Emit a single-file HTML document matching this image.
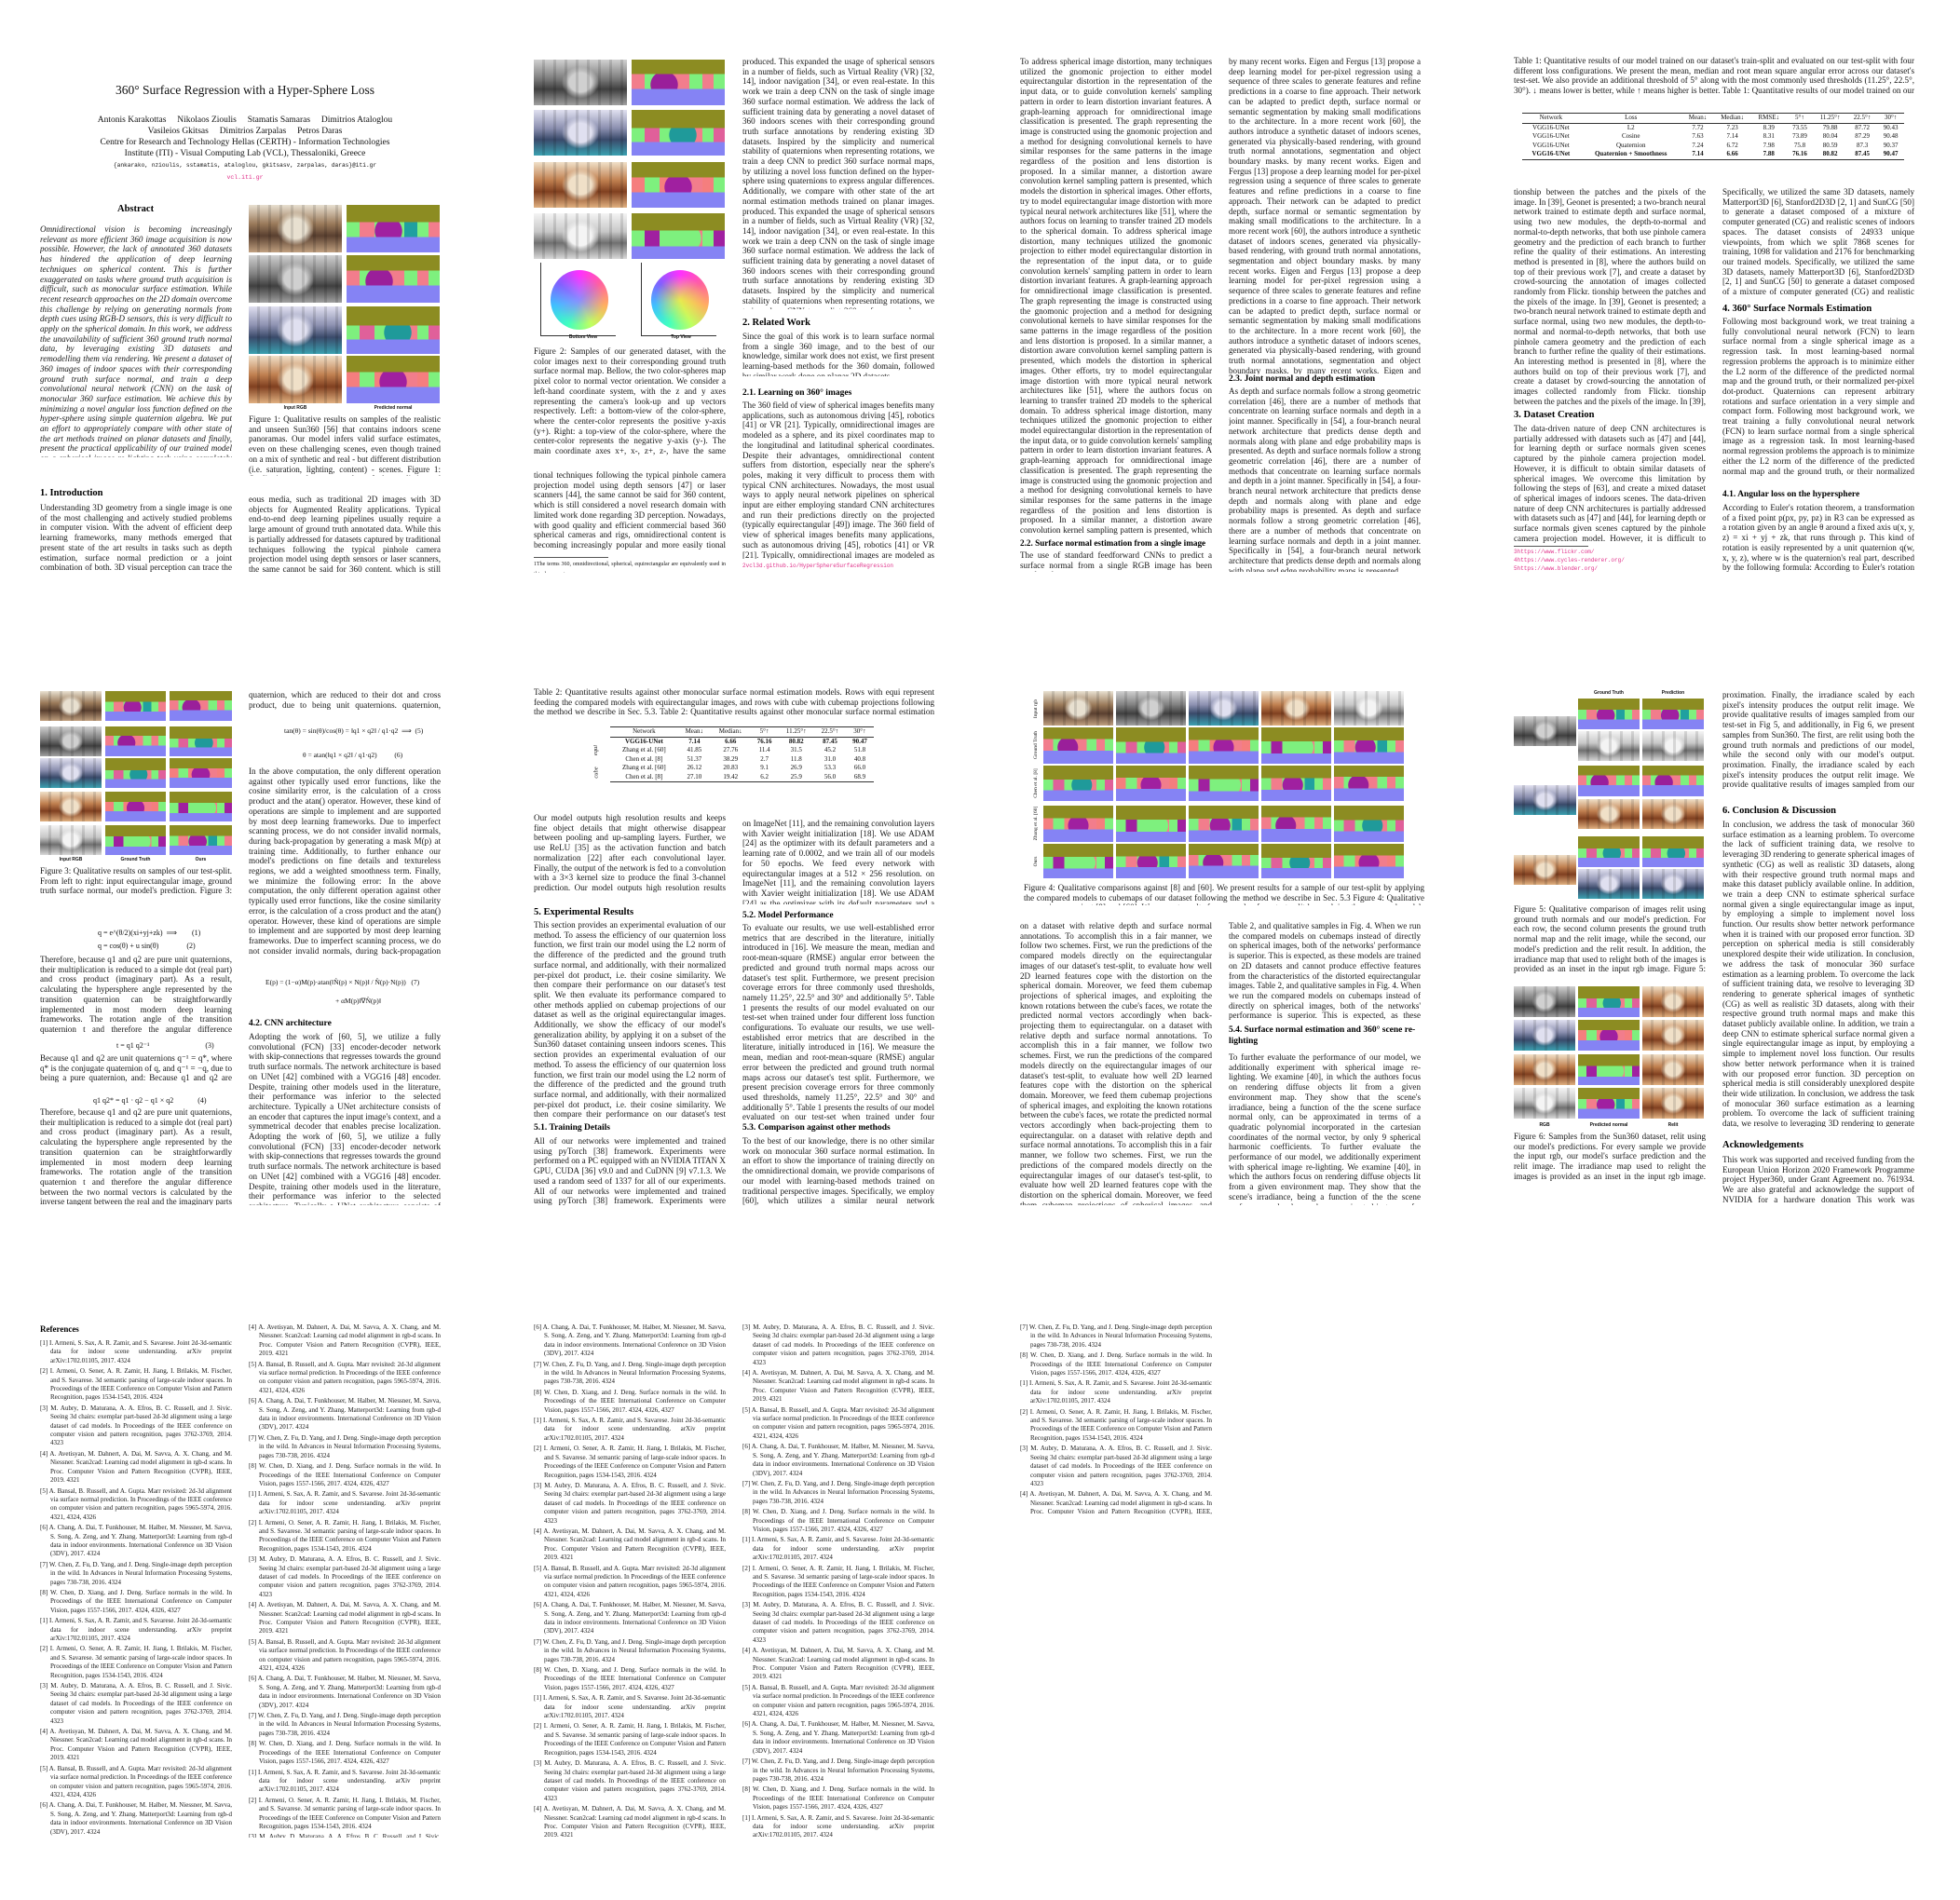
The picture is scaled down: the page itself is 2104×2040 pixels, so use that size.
<!DOCTYPE html>
<html><head><meta charset="utf-8">
<style>
html,body{margin:0;padding:0;background:#fff;}
body{width:2104px;height:2040px;position:relative;overflow:hidden;font-family:"Liberation Serif",serif;color:#111;}
.page{position:absolute;width:526px;height:680px;background:#fff;overflow:hidden;}
.abs{position:absolute;}
.col{position:absolute;overflow:hidden;font-size:9.1px;line-height:10.7px;text-align:justify;color:#161616;}
.refcol{position:absolute;overflow:hidden;font-size:7px;line-height:9.4px;color:#1a1a1a;}
.refcol div{padding-left:11px;text-indent:-11px;margin-bottom:2px;text-align:justify;}
.h{position:absolute;font-weight:bold;font-size:10px;white-space:nowrap;color:#000;}
.img{position:absolute;}
.lbl{position:absolute;font-family:"Liberation Sans",sans-serif;font-size:5px;font-weight:bold;text-align:center;}
table.t{border-collapse:collapse;font-size:7px;line-height:9.5px;position:absolute;}
table.t td{padding:0 3px;text-align:center;white-space:nowrap;}
table.t tr.top td{border-top:1px solid #333;border-bottom:1px solid #333;}
table.t tr.last td{border-bottom:1px solid #333;}
</style></head>
<body>
<div id="root"></div>
<script>
const TXT = [
"Understanding 3D geometry from a single image is one of the most challenging and actively studied problems in computer vision. With the advent of efficient deep learning frameworks, many methods emerged that present state of the art results in tasks such as depth estimation, surface normal prediction or a joint combination of both. 3D visual perception can trace the path for a number of applications, like autonomous driving, robot navigation, 3D reconstruction or even the fusion of two heterogeneous media, such as traditional 2D images with 3D objects for Augmented Reality applications. Typical end-to-end deep learning pipelines usually require a large amount of ground truth annotated data. While this is partially addressed for datasets captured by traditional techniques following the typical pinhole camera projection model using depth sensors or laser scanners, the same cannot be said for 360 content, which is still considered a novel research domain with limited work done regarding 3D perception. ",
"To address spherical image distortion, many techniques utilized the gnomonic projection to either model equirectangular distortion in the representation of the input data, or to guide convolution kernels' sampling pattern in order to learn distortion invariant features. A graph-learning approach for omnidirectional image classification is presented. The graph representing the image is constructed using the gnomonic projection and a method for designing convolutional kernels to have similar responses for the same patterns in the image regardless of the position and lens distortion is proposed. In a similar manner, a distortion aware convolution kernel sampling pattern is presented, which models the distortion in spherical images. ",
"This section provides an experimental evaluation of our method. To assess the efficiency of our quaternion loss function, we first train our model using the L2 norm of the difference of the predicted and the ground truth surface normal, and additionally, with their normalized per-pixel dot product, i.e. their cosine similarity. We then compare their performance on our dataset's test split. We then evaluate its performance compared to other methods applied on cubemap projections of our dataset as well as the original equirectangular images. Additionally, we show the efficacy of our model's generalization ability, by applying it on a subset of the Sun360 dataset containing unseen indoors scenes. ",
"In conclusion, we address the task of monocular 360 surface estimation as a learning problem. To overcome the lack of sufficient training data, we resolve to leveraging 3D rendering to generate spherical images of synthetic (CG) as well as realistic 3D datasets, along with their respective ground truth normal maps and make this dataset publicly available online. In addition, we train a deep CNN to estimate spherical surface normal given a single equirectangular image as input, by employing a simple to implement novel loss function. Our results show better network performance when it is trained with our proposed error function. ",
"Therefore, because q1 and q2 are pure unit quaternions, their multiplication is reduced to a simple dot (real part) and cross product (imaginary part). As a result, calculating the hypersphere angle represented by the transition quaternion can be straightforwardly implemented in most modern deep learning frameworks. The rotation angle of the transition quaternion t and therefore the angular difference between the two normal vectors is calculated by the inverse tangent between the real and the imaginary parts of the transition quaternion, which are reduced to their dot and cross product. "
];
const ABS = "Omnidirectional vision is becoming increasingly relevant as more efficient 360 image acquisition is now possible. However, the lack of annotated 360 datasets has hindered the application of deep learning techniques on spherical content. This is further exaggerated on tasks where ground truth acquisition is difficult, such as monocular surface estimation. While recent research approaches on the 2D domain overcome this challenge by relying on generating normals from depth cues using RGB-D sensors, this is very difficult to apply on the spherical domain. In this work, we address the unavailability of sufficient 360 ground truth normal data, by leveraging existing 3D datasets and remodelling them via rendering. We present a dataset of 360 images of indoor spaces with their corresponding ground truth surface normal, and train a deep convolutional neural network (CNN) on the task of monocular 360 surface estimation. We achieve this by minimizing a novel angular loss function defined on the hyper-sphere using simple quaternion algebra. We put an effort to appropriately compare with other state of the art methods trained on planar datasets and finally, present the practical applicability of our trained model on a spherical image re-lighting task using completely unseen data by qualitatively showing the promising generalization ability of our dataset and model.";
const REFS = [
"[1] I. Armeni, S. Sax, A. R. Zamir, and S. Savarese. Joint 2d-3d-semantic data for indoor scene understanding. arXiv preprint arXiv:1702.01105, 2017. 4324",
"[2] I. Armeni, O. Sener, A. R. Zamir, H. Jiang, I. Brilakis, M. Fischer, and S. Savarese. 3d semantic parsing of large-scale indoor spaces. In Proceedings of the IEEE Conference on Computer Vision and Pattern Recognition, pages 1534-1543, 2016. 4324",
"[3] M. Aubry, D. Maturana, A. A. Efros, B. C. Russell, and J. Sivic. Seeing 3d chairs: exemplar part-based 2d-3d alignment using a large dataset of cad models. In Proceedings of the IEEE conference on computer vision and pattern recognition, pages 3762-3769, 2014. 4323",
"[4] A. Avetisyan, M. Dahnert, A. Dai, M. Savva, A. X. Chang, and M. Niessner. Scan2cad: Learning cad model alignment in rgb-d scans. In Proc. Computer Vision and Pattern Recognition (CVPR), IEEE, 2019. 4321",
"[5] A. Bansal, B. Russell, and A. Gupta. Marr revisited: 2d-3d alignment via surface normal prediction. In Proceedings of the IEEE conference on computer vision and pattern recognition, pages 5965-5974, 2016. 4321, 4324, 4326",
"[6] A. Chang, A. Dai, T. Funkhouser, M. Halber, M. Niessner, M. Savva, S. Song, A. Zeng, and Y. Zhang. Matterport3d: Learning from rgb-d data in indoor environments. International Conference on 3D Vision (3DV), 2017. 4324",
"[7] W. Chen, Z. Fu, D. Yang, and J. Deng. Single-image depth perception in the wild. In Advances in Neural Information Processing Systems, pages 730-738, 2016. 4324",
"[8] W. Chen, D. Xiang, and J. Deng. Surface normals in the wild. In Proceedings of the IEEE International Conference on Computer Vision, pages 1557-1566, 2017. 4324, 4326, 4327"
];

const root = document.getElementById('root');
const pages = [];
for (let i = 0; i < 12; i++) {
  const p = document.createElement('div');
  p.className = 'page';
  p.style.left = (i % 4) * 526 + 'px';
  p.style.top = Math.floor(i / 4) * 680 + 'px';
  
  
  root.appendChild(p);
  pages.push(p);
}

function col(pg, x, y, w, h, text, extra, name) {
  const el = document.createElement('div');
  el.className = 'col';
  el.style.cssText += `left:${x}px;top:${y}px;width:${w}px;height:${h}px;`;
  
  
  pages[pg].appendChild(el);
  let s = text, n = 0;
  el.textContent = s;
  while (el.scrollHeight <= el.clientHeight + 2 && n < 20) { s += ' ' + text; el.textContent = s; n++; }
  return el;
}
function refcol(pg, x, y, w, h, start) {
  const el = document.createElement('div');
  el.className = 'refcol';
  el.style.cssText += `left:${x}px;top:${y}px;width:${w}px;height:${h}px;`;
  
  
  pages[pg].appendChild(el);
  let i = start, n = 0;
  while (el.scrollHeight <= el.clientHeight + 2 && n < 60) {
    const d = document.createElement('div');
    d.textContent = REFS[i % REFS.length];
    
    
    el.appendChild(d);
    i++; n++;
  }
}
function head(pg, x, y, text, size, name, w) {
  const el = document.createElement('div');
  el.className = 'h';
  el.style.left = x + 'px'; el.style.top = y + 'px';
  if (size) el.style.fontSize = size + 'px';
  if (w) { el.style.width = w + 'px'; el.style.whiteSpace = 'normal'; el.style.lineHeight = '12px'; }
  el.textContent = text;
  
  
  pages[pg].appendChild(el);
  return el;
}
function line(pg, x, y, text, css, name) {
  const el = document.createElement('div');
  el.className = 'abs';
  el.style.cssText += `left:${x}px;top:${y}px;white-space:nowrap;` + (css || '');
  el.textContent = text;
  
  
  pages[pg].appendChild(el);
  return el;
}
const NMV = [
 ['#8c8c22',0.36,'#7ef07e','#f27d8c','#a020a0','#20a0a0',0.45,0.68],
 ['#8c8c22',0.32,'#f27d8c','#7ef07e','#9a1f9a','#7ef07e',0.35,0.64],
 ['#8c8c22',0.40,'#7ef07e','#e0609a','#1f9a9a','#f27d8c',0.55,0.7],
 ['#8c8c22',0.34,'#f57e7e','#7ef07e','#a020a0','#f27d8c',0.5,0.66],
 ['#8c8c22',0.38,'#7ef07e','#a020a0','#7ef07e','#f27d8c',0.6,0.72]
];
function nmap(pg, x, y, w, h, v) {
  const c = NMV[v % NMV.length];
  const el = document.createElement('div');
  el.className = 'img';
  el.style.cssText += `left:${x}px;top:${y}px;width:${w}px;height:${h}px;`;
  el.style.background =
    `linear-gradient(${c[0]} 0 ${c[1]*100}%, transparent ${c[1]*100}%),` +
    `linear-gradient(transparent 0 ${c[7]*100}%, #8583f4 ${c[7]*100}%),` +
    `radial-gradient(ellipse 15% 30% at ${c[6]*100}% 55%, ${c[4]} 0 96%, transparent 100%),` +
    `linear-gradient(to right, ${c[2]} 0 14%, ${c[3]} 14% 30%, ${c[2]} 30% 62%, ${c[5]} 62% 76%, ${c[2]} 76% 88%, ${c[3]} 88%)`;
  
  
  pages[pg].appendChild(el);
}
const RGBV = [
 ['#e8e0d0','#9a7a5a','#5a4030','#c0a080'],
 ['#d0d0d0','#808080','#404040','#a0a0a0'],
 ['#e0e0f0','#8c90b0','#3a4a6a','#3aa0b0'],
 ['#f0e0c8','#c08050','#804020','#e0b080'],
 ['#f4f4f4','#c8c8c8','#707070','#d8d8d8']
];
function rgb(pg, x, y, w, h, v) {
  const c = RGBV[v % RGBV.length];
  const el = document.createElement('div');
  el.className = 'img';
  el.style.cssText += `left:${x}px;top:${y}px;width:${w}px;height:${h}px;`;
  el.style.background = `repeating-linear-gradient(to right, rgba(0,0,0,0) 0 9px, rgba(0,0,0,0.12) 9px 12px), radial-gradient(ellipse 20% 35% at 50% 50%, ${c[0]} 0 60%, transparent 100%), linear-gradient(${c[0]} 0, ${c[1]} 40%, ${c[2]} 65%, ${c[3]} 100%)`;
  
  
  pages[pg].appendChild(el);
}
function lbl(pg, x, y, w, text) {
  const el = document.createElement('div');
  el.className = 'lbl';
  el.style.cssText += `left:${x}px;top:${y}px;width:${w}px;`;
  el.textContent = text;
  
  
  pages[pg].appendChild(el);
}
const L = 45, R = 269, W = 206;

/* ---------- Page 1 ---------- */
line(0, 0, 89, "360° Surface Regression with a Hyper-Sphere Loss", "width:526px;text-align:center;font-size:13.5px;", 'paper-title');
line(0, 0, 124, "Antonis Karakottas     Nikolaos Zioulis     Stamatis Samaras     Dimitrios Ataloglou", "width:526px;text-align:center;font-size:9.5px;white-space:pre;", 'author-list');
line(0, 0, 136, "Vasileios Gkitsas     Dimitrios Zarpalas     Petros Daras", "width:526px;text-align:center;font-size:9.5px;white-space:pre;", 'author-list');
line(0, 0, 148, "Centre for Research and Technology Hellas (CERTH) - Information Technologies", "width:526px;text-align:center;font-size:9.5px;", 'affiliation');
line(0, 0, 160, "Institute (ITI) - Visual Computing Lab (VCL), Thessaloniki, Greece", "width:526px;text-align:center;font-size:9.5px;", 'affiliation');
line(0, 0, 174, "{ankarako, nzioulis, sstamatis, ataloglou, gkitsasv, zarpalas, daras}@iti.gr", "width:526px;text-align:center;font-size:6.2px;font-family:'Liberation Mono',monospace;", 'author-emails');
line(0, 0, 187, "vcl.iti.gr", "width:526px;text-align:center;font-size:6.5px;color:#e0308a;font-family:'Liberation Mono',monospace;", 'project-link');
head(0, 126, 219, "Abstract", 10.5, 'abstract-heading');
col(0, L-2, 241, W, 250, ABS, '', 'abstract-text').style.fontStyle = 'italic';
[220, 274, 329, 382].forEach((y, i) => { rgb(0, 267, y, 100, 51, i); nmap(0, 372, y, 100, 51, i); });
lbl(0, 267, 435, 100, "Input RGB"); lbl(0, 372, 435, 100, "Predicted normal");
col(0, R-2, 445, W, 66, "Figure 1: Qualitative results on samples of the realistic and unseen Sun360 [56] that contains indoors scene panoramas. Our model infers valid surface estimates, even on these challenging scenes, even though trained on a mix of synthetic and real - but different distribution (i.e. saturation, lighting, content) - scenes.", '', 'figure-caption');
head(0, L-2, 524, "1. Introduction", 10.5);
col(0, L-2, 540, W, 74, TXT[0]);
col(0, R-2, 531, W, 83, TXT[0].slice(500) + TXT[0]);

/* ---------- Page 2 ---------- */
[64, 118, 174, 229].forEach((y, i) => { rgb(1, 47, y, 100, 49, i + 1); nmap(1, 152, y, 100, 49, i + 1); });
function sphere(pg, cx, cy, center, name) {
  const el = document.createElement('div');
  el.className = 'img';
  el.style.cssText += `left:${cx-31}px;top:${cy-32}px;width:62px;height:64px;border-radius:50%;`;
  el.style.background = `radial-gradient(circle at 50% 50%, ${center} 0, transparent 60%), conic-gradient(#ff30ff, #ff60a0, #ffb060, #c0ff60, #40ffc0, #40c0ff, #8060ff, #ff30ff)`;
  
  
  pages[pg].appendChild(el);
  const ax = document.createElement('div');
  ax.className = 'abs';
  ax.style.cssText = `left:${cx-42}px;top:${cy-40}px;width:80px;height:78px;border-left:1px solid #333;border-bottom:1px solid #333;`;
  
  
  pages[pg].appendChild(ax);
}
sphere(1, 96, 322, '#8c8cff', 'bottom-view-color-sphere');
sphere(1, 204, 322, '#e8e850', 'top-view-color-sphere');
lbl(1, 70, 359, 60, "Bottom View"); lbl(1, 175, 359, 60, "Top View");
col(1, L+2, 372, W, 117, "Figure 2: Samples of our generated dataset, with the color images next to their corresponding ground truth surface normal map. Bellow, the two color-spheres map pixel color to normal vector orientation. We consider a left-hand coordinate system, with the z and y axes representing the camera's look-up and up vectors respectively. Left: a bottom-view of the color-sphere, where the center-color represents the positive y-axis (y+). Right: a top-view of the color-sphere, where the center-color represents the negative y-axis (y-). The main coordinate axes x+, x-, z+, z-, have the same colors in both the color-spheres.", '', 'figure-caption');
col(1, L+2, 505, W, 86, "tional techniques following the typical pinhole camera projection model using depth sensors [47] or laser scanners [44], the same cannot be said for 360 content, which is still considered a novel research domain with limited work done regarding 3D perception. Nowadays, with good quality and efficient commercial based 360 spherical cameras and rigs, omnidirectional content is becoming increasingly popular and more easily");
line(1, L+2, 598, "", "width:80px;border-top:1px solid #555;", 'footnote-rule');
col(1, L+2, 601, W, 14, "1The terms 360, omnidirectional, spherical, equirectangular are equivalently used in this document.", '', 'footnote').style.fontSize = '6px';
col(1, R+2, 61, W, 271, "produced. This expanded the usage of spherical sensors in a number of fields, such as Virtual Reality (VR) [32, 14], indoor navigation [34], or even real-estate. In this work we train a deep CNN on the task of single image 360 surface normal estimation. We address the lack of sufficient training data by generating a novel dataset of 360 indoors scenes with their corresponding ground truth surface annotations by rendering existing 3D datasets. Inspired by the simplicity and numerical stability of quaternions when representing rotations, we train a deep CNN to predict 360 surface normal maps, by utilizing a novel loss function defined on the hyper-sphere using quaternions to express angular differences. Additionally, we compare with other state of the art normal estimation methods trained on planar images. ");
head(1, R+2, 341, "2. Related Work", 10.5);
col(1, R+2, 356, W, 48, "Since the goal of this work is to learn surface normal from a single 360 image, and to the best of our knowledge, similar work does not exist, we first present learning-based methods for the 360 domain, followed by similar work done on planar 2D datasets.");
head(1, R+2, 417, "2.1. Learning on 360° images", 9.5);
col(1, R+2, 430, W, 170, "The 360 field of view of spherical images benefits many applications, such as autonomous driving [45], robotics [41] or VR [21]. Typically, omnidirectional images are modeled as a sphere, and its pixel coordinates map to the longitudinal and latitudinal spherical coordinates. Despite their advantages, omnidirectional content suffers from distortion, especially near the sphere's poles, making it very difficult to process them with typical CNN architectures. Nowadays, the most usual ways to apply neural network pipelines on spherical input are either employing standard CNN architectures and run their predictions directly on the projected (typically equirectangular [49]) image. ");
line(1, R+2, 604, "2vcl3d.github.io/HyperSphereSurfaceRegression", "font-size:6px;color:#e0308a;font-family:'Liberation Mono',monospace;", 'footnote-link');

/* ---------- Page 3 ---------- */
col(2, L-2, 61, W, 514, TXT[1] + "Other efforts, try to model equirectangular image distortion with more typical neural network architectures like [51], where the authors focus on learning to transfer trained 2D models to the spherical domain. ");
head(2, L-2, 578, "2.2. Surface normal estimation from a single image", 9.2);
col(2, L-2, 591, W, 23, "The use of standard feedforward CNNs to predict a surface normal from a single RGB image has been employed");
col(2, R-2, 61, W, 341, "by many recent works. Eigen and Fergus [13] propose a deep learning model for per-pixel regression using a sequence of three scales to generate features and refine predictions in a coarse to fine approach. Their network can be adapted to predict depth, surface normal or semantic segmentation by making small modifications to the architecture. In a more recent work [60], the authors introduce a synthetic dataset of indoors scenes, generated via physically-based rendering, with ground truth normal annotations, segmentation and object boundary masks. ");
head(2, R-2, 402, "2.3. Joint normal and depth estimation", 9.5);
col(2, R-2, 415, W, 199, "As depth and surface normals follow a strong geometric correlation [46], there are a number of methods that concentrate on learning surface normals and depth in a joint manner. Specifically in [54], a four-branch neural network architecture that predicts dense depth and normals along with plane and edge probability maps is presented. ");

/* ---------- Page 4 ---------- */
col(3, L+2, 60, 430, 43, "Table 1: Quantitative results of our model trained on our dataset's train-split and evaluated on our test-split with four different loss configurations. We present the mean, median and root mean square angular error across our dataset's test-set. We also provide an additional threshold of 5° along with the most commonly used thresholds (11.25°, 22.5°, 30°). ↓ means lower is better, while ↑ means higher is better.", '', 'table-caption');
function table(pg, x, y, w, rows, name, boldRow) {
  const t = document.createElement('table');
  t.className = 't';
  t.style.left = x + 'px'; t.style.top = y + 'px'; t.style.width = w + 'px';
  
  
  rows.forEach((r, i) => {
    const tr = document.createElement('tr');
    if (i === 0) tr.className = 'top';
    if (i === rows.length - 1) tr.className = 'last';
    r.forEach(c => {
      const td = document.createElement('td');
      td.textContent = c;
      if (i === boldRow) td.style.fontWeight = 'bold';
      tr.appendChild(td);
    });
    t.appendChild(tr);
  });
  pages[pg].appendChild(t);
}
const T1_HEAD = ["Network","Loss","Mean↓","Median↓","RMSE↓","5°↑","11.25°↑","22.5°↑","30°↑"];
const T1_ROWS = [
 ["VGG16-UNet","L2","7.72","7.23","8.39","73.55","79.88","87.72","90.43"],
 ["VGG16-UNet","Cosine","7.63","7.14","8.31","73.89","80.04","87.29","90.48"],
 ["VGG16-UNet","Quaternion","7.24","6.72","7.98","75.8","80.59","87.3","90.37"],
 ["VGG16-UNet","Quaternion + Smoothness","7.14","6.66","7.88","76.16","80.82","87.45","90.47"]
];
table(3, 56, 121, 410, [T1_HEAD].concat(T1_ROWS), 'results-table-1', 4);
col(3, L+2, 201, W, 235, "tionship between the patches and the pixels of the image. In [39], Geonet is presented; a two-branch neural network trained to estimate depth and surface normal, using two new modules, the depth-to-normal and normal-to-depth networks, that both use pinhole camera geometry and the prediction of each branch to further refine the quality of their estimations. An interesting method is presented in [8], where the authors build on top of their previous work [7], and create a dataset by crowd-sourcing the annotation of images collected randomly from Flickr. ");
head(3, L+2, 440, "3. Dataset Creation", 10.5);
col(3, L+2, 455, W, 128, "The data-driven nature of deep CNN architectures is partially addressed with datasets such as [47] and [44], for learning depth or surface normals given scenes captured by the pinhole camera projection model. However, it is difficult to obtain similar datasets of spherical images. We overcome this limitation by following the steps of [63], and create a mixed dataset of spherical images of indoors scenes. ");
line(3, L+2, 586, "", "width:80px;border-top:1px solid #555;", 'footnote-rule');
line(3, L+2, 589, "3https://www.flickr.com/", "font-size:6px;color:#e0308a;font-family:'Liberation Mono',monospace;", 'footnote-link');
line(3, L+2, 598, "4https://www.cycles-renderer.org/", "font-size:6px;color:#e0308a;font-family:'Liberation Mono',monospace;", 'footnote-link');
line(3, L+2, 607, "5https://www.blender.org/", "font-size:6px;color:#e0308a;font-family:'Liberation Mono',monospace;", 'footnote-link');
col(3, R+2, 201, W, 118, "Specifically, we utilized the same 3D datasets, namely Matterport3D [6], Stanford2D3D [2, 1] and SunCG [50] to generate a dataset composed of a mixture of computer generated (CG) and realistic scenes of indoors spaces. The dataset consists of 24933 unique viewpoints, from which we split 7868 scenes for training, 1098 for validation and 2176 for benchmarking our trained models. ");
head(3, R+2, 326, "4. 360° Surface Normals Estimation", 10.5);
col(3, R+2, 340, W, 172, "Following most background work, we treat training a fully convolutional neural network (FCN) to learn surface normal from a single spherical image as a regression task. In most learning-based normal regression problems the approach is to minimize either the L2 norm of the difference of the predicted normal map and the ground truth, or their normalized per-pixel dot-product. Quaternions can represent arbitrary rotations and surface orientation in a very simple and compact form. ");
head(3, R+2, 526, "4.1. Angular loss on the hypersphere", 9.5);
col(3, R+2, 540, W, 74, "According to Euler's rotation theorem, a transformation of a fixed point p(px, py, pz) in R3 can be expressed as a rotation given by an angle θ around a fixed axis u(x, y, z) = xi + yj + zk, that runs through p. This kind of rotation is easily represented by a unit quaternion q(w, x, y, z), where w is the quaternion's real part, described by the following formula:");

/* ---------- Page 5 ---------- */
[62, 100, 134, 170, 206].forEach((y, i) => { rgb(4, 43, y, 66, 32, i); nmap(4, 113, y, 65, 32, i); nmap(4, 182, y, 67, 32, i + 1); });
lbl(4, 43, 240, 66, "Input RGB"); lbl(4, 113, 240, 65, "Ground Truth"); lbl(4, 182, 240, 67, "Ours");
col(4, L-2, 250, W, 33, "Figure 3: Qualitative results on samples of our test-split. From left to right: input equirectangular image, ground truth surface normal, our model's prediction.", '', 'figure-caption');
line(4, 105, 317, "q = e^(θ/2)(xi+yj+zk)  ⟹        (1)", "font-size:8px;white-space:pre;", 'equation');
line(4, 105, 331, "q = cos(θ) + u sin(θ)               (2)", "font-size:8px;white-space:pre;", 'equation');
col(4, L-2, 345, W, 86, TXT[4]);
line(4, 125, 438, "t = q1 q2⁻¹                              (3)", "font-size:8px;white-space:pre;", 'equation');
col(4, L-2, 451, W, 32, "Because q1 and q2 are unit quaternions q⁻¹ = q*, where q* is the conjugate quaternion of q, and q⁻¹ = −q, due to being a pure quaternion, and:");
line(4, 100, 497, "q1 q2* = q1 · q2 − q1 × q2             (4)", "font-size:8px;white-space:pre;", 'equation');
col(4, L-2, 509, W, 105, TXT[4]);
col(4, R-2, 61, W, 22, "quaternion, which are reduced to their dot and cross product, due to being unit quaternions.");
line(4, 305, 100, "tan(θ) = sin(θ)/cos(θ) = ‖q1 × q2‖ / q1·q2  ⟹  (5)", "font-size:7.5px;white-space:pre;", 'equation');
line(4, 325, 126, "θ = atan(‖q1 × q2‖ / q1·q2)          (6)", "font-size:7.5px;white-space:pre;", 'equation');
col(4, R-2, 143, W, 203, "In the above computation, the only different operation against other typically used error functions, like the cosine similarity error, is the calculation of a cross product and the atan() operator. However, these kind of operations are simple to implement and are supported by most deep learning frameworks. Due to imperfect scanning process, we do not consider invalid normals, during back-propagation by generating a mask M(p) at training time. Additionally, to further enhance our model's predictions on fine details and textureless regions, we add a weighted smoothness term. Finally, we minimize the following error:");
line(4, 285, 370, "E(p) = (1−α)M(p)·atan(‖N̂(p) × N(p)‖ / N̂(p)·N(p))   (7)", "font-size:7.5px;white-space:pre;", 'equation');
line(4, 360, 390, "+ αM(p)‖∇N̂(p)‖", "font-size:7.5px;", 'equation');
head(4, R-2, 414, "4.2. CNN architecture", 9.5);
col(4, R-2, 428, W, 186, "Adopting the work of [60, 5], we utilize a fully convolutional (FCN) [33] encoder-decoder network with skip-connections that regresses towards the ground truth surface normals. The network architecture is based on UNet [42] combined with a VGG16 [48] encoder. Despite, training other models used in the literature, their performance was inferior to the selected architecture. Typically a UNet architecture consists of an encoder that captures the input image's context, and a symmetrical decoder that enables precise localization. ");

/* ---------- Page 6 ---------- */
col(5, L+2, 58, 430, 33, "Table 2: Quantitative results against other monocular surface normal estimation models. Rows with equi represent feeding the compared models with equirectangular images, and rows with cube with cubemap projections following the method we describe in Sec. 5.3.", '', 'table-caption');
const T2_HEAD = ["Network","Mean↓","Median↓","5°↑","11.25°↑","22.5°↑","30°↑"];
const T2_ROWS = [
 ["VGG16-UNet","7.14","6.66","76.16","80.82","87.45","90.47"],
 ["Zhang et al. [60]","41.85","27.76","11.4","31.5","45.2","51.8"],
 ["Chen et al. [8]","51.37","38.29","2.7","11.8","31.0","40.8"],
 ["Zhang et al. [60]","26.12","20.83","9.1","26.9","53.3","66.0"],
 ["Chen et al. [8]","27.10","19.42","6.2","25.9","56.0","68.9"]
];
table(5, 129, 100, 283, [T2_HEAD].concat(T2_ROWS), 'results-table-2', 1);
line(5, 108, 122, "equi", "font-size:6.5px;font-style:italic;transform:rotate(-90deg);", 'row-group-label');
line(5, 108, 146, "cube", "font-size:6.5px;font-style:italic;transform:rotate(-90deg);", 'row-group-label');
col(5, L+2, 193, W, 86, "Our model outputs high resolution results and keeps fine object details that might otherwise disappear between pooling and up-sampling layers. Further, we use ReLU [35] as the activation function and batch normalization [22] after each convolutional layer. Finally, the output of the network is fed to a convolution with a 3×3 kernel size to produce the final 3-channel prediction.");
head(5, L+2, 294, "5. Experimental Results", 10.5);
col(5, L+2, 308, W, 214, TXT[2]);
head(5, L+2, 526, "5.1. Training Details", 9.5);
col(5, L+2, 540, W, 74, "All of our networks were implemented and trained using pyTorch [38] framework. Experiments were performed on a PC equipped with an NVIDIA TITAN X GPU, CUDA [36] v9.0 and and CuDNN [9] v7.1.3. We used a random seed of 1337 for all of our experiments.");
col(5, R+2, 199, W, 92, "on ImageNet [11], and the remaining convolution layers with Xavier weight initialization [18]. We use ADAM [24] as the optimizer with its default parameters and a learning rate of 0.0002, and we train all of our models for 50 epochs. We feed every network with equirectangular images at a 512 × 256 resolution.");
head(5, R+2, 298, "5.2. Model Performance", 9.5);
col(5, R+2, 311, W, 211, "To evaluate our results, we use well-established error metrics that are described in the literature, initially introduced in [16]. We measure the mean, median and root-mean-square (RMSE) angular error between the predicted and ground truth normal maps across our dataset's test split. Furthermore, we present precision coverage errors for three commonly used thresholds, namely 11.25°, 22.5° and 30° and additionally 5°. Table 1 presents the results of our model evaluated on our test-set when trained under four different loss function configurations. ");
head(5, R+2, 526, "5.3. Comparison against other methods", 9.5);
col(5, R+2, 540, W, 74, "To the best of our knowledge, there is no other similar work on monocular 360 surface normal estimation. In an effort to show the importance of training directly on the omnidirectional domain, we provide comparisons of our model with learning-based methods trained on traditional perspective images. Specifically, we employ [60], which utilizes a similar neural network architecture, and [8] which is trained");

/* ---------- Page 7 ---------- */
const F4R = [62, 101, 142, 185, 226], F4H = [37, 39, 38, 39, 37];
const F4C = [68, 146, 224, 302, 380];
F4R.forEach((y, r) => F4C.forEach((x, c) => {
  if (r === 0) rgb(6, x, y, 75, F4H[r], c); else nmap(6, x, y, 75, F4H[r], c + r);
}));
["Input rgb", "Ground Truth", "Chen et al. [8]", "Zhang et al. [60]", "Ours"].forEach((t, r) => {
  line(6, 30, F4R[r] + 16, t, "font-size:5.5px;width:60px;text-align:center;transform:rotate(-90deg);", 'row-label');
});
col(6, L+2, 268, 430, 24, "Figure 4: Qualitative comparisons against [8] and [60]. We present results for a sample of our test-split by applying the compared models to cubemaps of our dataset following the method we describe in Sec. 5.3", '', 'figure-caption');
col(6, L-2, 309, W, 305, "on a dataset with relative depth and surface normal annotations. To accomplish this in a fair manner, we follow two schemes. First, we run the predictions of the compared models directly on the equirectangular images of our dataset's test-split, to evaluate how well 2D learned features cope with the distortion on the spherical domain. Moreover, we feed them cubemap projections of spherical images, and exploiting the known rotations between the cube's faces, we rotate the predicted normal vectors accordingly when back-projecting them to equirectangular. ");
col(6, R-2, 309, W, 106, "Table 2, and qualitative samples in Fig. 4. When we run the compared models on cubemaps instead of directly on spherical images, both of the networks' performance is superior. This is expected, as these models are trained on 2D datasets and cannot produce effective features from the characteristics of the distorted equirectangular images.");
head(6, R-2, 420, "5.4. Surface normal estimation and 360° scene re-lighting", 9.5, 'section-heading', W);
col(6, R-2, 450, W, 164, "To further evaluate the performance of our model, we additionally experiment with spherical image re-lighting. We examine [40], in which the authors focus on rendering diffuse objects lit from a given environment map. They show that the scene's irradiance, being a function of the the scene surface normal only, can be approximated in terms of a quadratic polynomial incorporated in the cartesian coordinates of the normal vector, by only 9 spherical harmonic coefficients. ");

/* ---------- Page 8 ---------- */
lbl(7, 116, 61, 66, "Ground Truth"); lbl(7, 185, 61, 66, "Prediction");
[[70, 105, 89], [142, 178, 163], [218, 253, 238]].forEach((g, i) => {
  rgb(7, 47, g[2], 67, 32, i + 1);
  nmap(7, 116, g[0], 66, 33, i); nmap(7, 185, g[0], 66, 33, i);
  rgb(7, 116, g[1], 66, 32, 4 - i); rgb(7, 185, g[1], 66, 32, 4 - i);
});
col(7, L+2, 291, W, 75, "Figure 5: Qualitative comparison of images relit using ground truth normals and our model's prediction. For each row, the second column presents the ground truth normal map and the relit image, while the second, our model's prediction and the relit result. In addition, the irradiance map that used to relight both of the images is provided as an inset in the input rgb image.", '', 'figure-caption');
[379, 415, 452, 488].forEach((y, i) => { rgb(7, 47, y, 66, 33, i + 1); nmap(7, 116, y, 66, 33, i + 2); rgb(7, 185, y, 66, 33, 3); });
lbl(7, 47, 525, 66, "RGB"); lbl(7, 116, 525, 66, "Predicted normal"); lbl(7, 185, 525, 66, "Relit");
col(7, L+2, 535, W, 54, "Figure 6: Samples from the Sun360 dataset, relit using our model's predictions. For every sample we provide the input rgb, our model's surface prediction and the relit image. The irradiance map used to relight the images is provided as an inset in the input rgb image.", '', 'figure-caption');
col(7, R+2, 61, W, 108, "proximation. Finally, the irradiance scaled by each pixel's intensity produces the output relit image. We provide qualitative results of images sampled from our test-set in Fig 5, and additionally, in Fig 6, we present samples from Sun360. The first, are relit using both the ground truth normals and predictions of our model, while the second only with our model's output.");
head(7, R+2, 185, "6. Conclusion & Discussion", 10.5);
col(7, R+2, 200, W, 330, TXT[3] + "3D perception on spherical media is still considerably unexplored despite their wide utilization. ");
head(7, R+2, 544, "Acknowledgements", 10.5);
col(7, R+2, 560, W, 54, "This work was supported and received funding from the European Union Horizon 2020 Framework Programme project Hyper360, under Grant Agreement no. 761934. We are also grateful and acknowledge the support of NVIDIA for a hardware donation");

/* ---------- References ---------- */
head(8, L-2, 62, "References", 9);
refcol(8, L-2, 78, W, 533, 0);
refcol(8, R-2, 61, W, 552, 3);
refcol(9, L+2, 61, W, 552, 5);
refcol(9, R+2, 61, W, 552, 2);
refcol(10, L-2, 61, W, 205, 6);
</script>
</body></html>
